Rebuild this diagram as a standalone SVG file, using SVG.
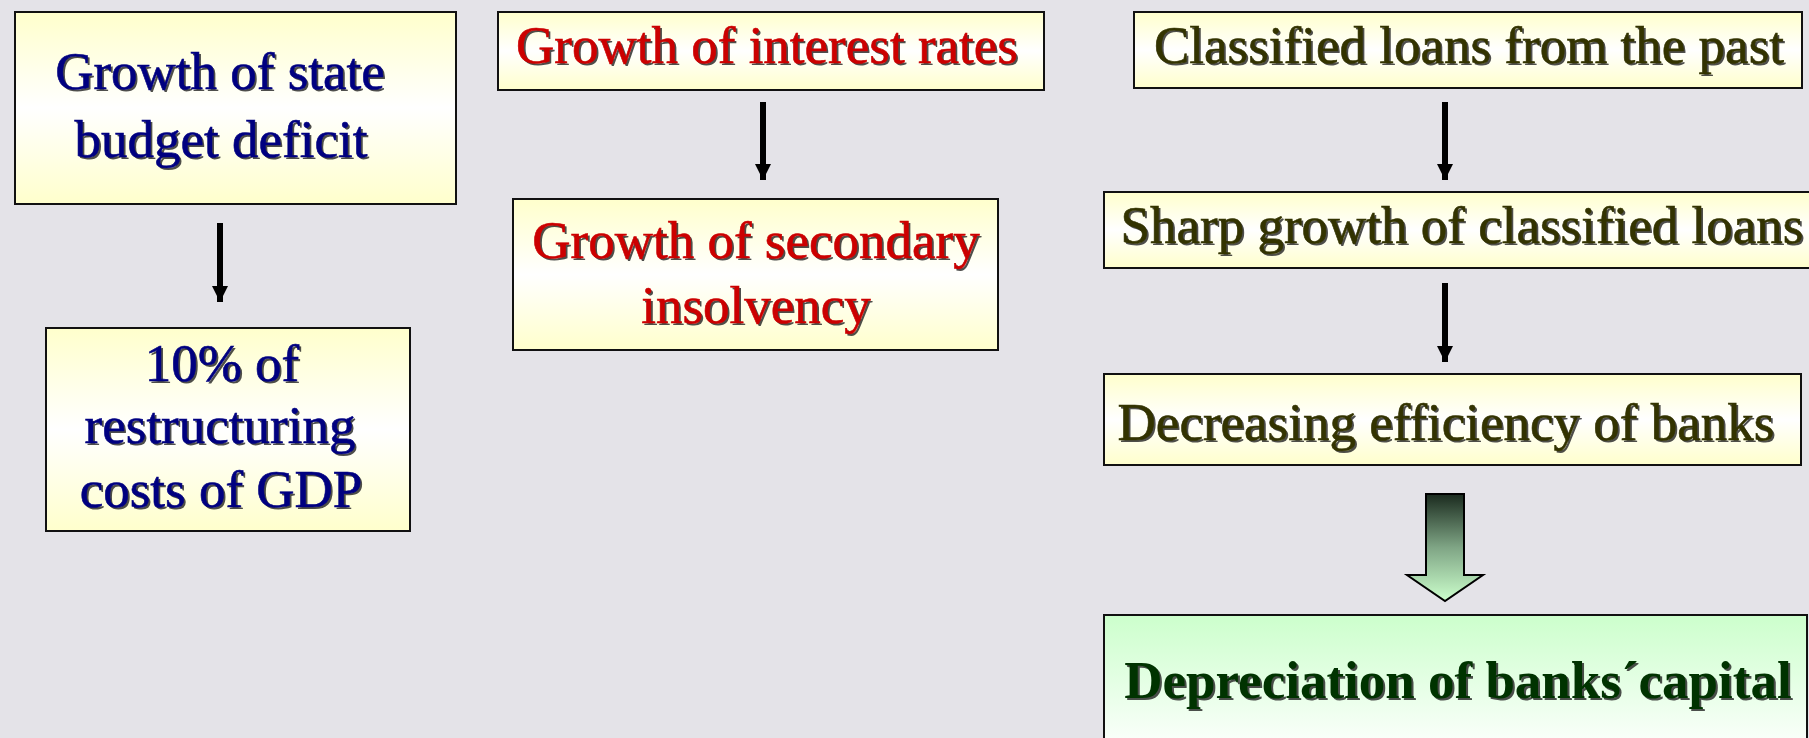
<svg xmlns="http://www.w3.org/2000/svg" width="1809" height="738" viewBox="0 0 1809 738">
<defs>
<linearGradient id="gY" x1="0" y1="0" x2="0" y2="1">
<stop offset="0" stop-color="#ffffcc"/>
<stop offset="0.5" stop-color="#ffffff"/>
<stop offset="1" stop-color="#ffffcc"/>
</linearGradient>
<linearGradient id="gG" x1="0" y1="0" x2="0" y2="1">
<stop offset="0" stop-color="#ccffcc"/>
<stop offset="1" stop-color="#ffffff"/>
</linearGradient>
<linearGradient id="gA" x1="0" y1="0" x2="0" y2="1">
<stop offset="0" stop-color="#1a2a1e"/>
<stop offset="0.5" stop-color="#7fa585"/>
<stop offset="1" stop-color="#ccffcc"/>
</linearGradient>
<marker id="ah" viewBox="0 0 16 16" refX="16" refY="8" markerWidth="16" markerHeight="16" markerUnits="userSpaceOnUse" orient="auto">
<path d="M0,0 L16,8 L0,16 Z" fill="#000"/>
</marker>
</defs>
<style>
.box{stroke:#111;stroke-width:2;}
.t{font-family:"Liberation Serif","Times New Roman",serif;font-size:53px;text-anchor:middle;}
.sh{fill:#222;opacity:0.8;}
.blue{fill:#000080;stroke:#000080;stroke-width:0.6;}
.red{fill:#cc0000;stroke:#cc0000;stroke-width:0.6;}
.olive{fill:#333300;stroke:#333300;stroke-width:0.6;}
.green{fill:#003300;font-weight:bold;}
.conn{stroke:#000;stroke-width:6;fill:none;}
</style>
<rect width="1809" height="738" fill="#e4e3e8"/>

<g id="connectors">
<line class="conn" x1="220" y1="223" x2="220" y2="302" marker-end="url(#ah)"/>
<line class="conn" x1="763" y1="102" x2="763" y2="180" marker-end="url(#ah)"/>
<line class="conn" x1="1445" y1="102" x2="1445" y2="180" marker-end="url(#ah)"/>
<line class="conn" x1="1445" y1="283" x2="1445" y2="362" marker-end="url(#ah)"/>
<path d="M1426,494 L1464,494 L1464,575 L1483,575 L1445,601 L1407,575 L1426,575 Z" fill="url(#gA)" stroke="#000" stroke-width="2"/>
</g>

<g id="node-budget-deficit">
<rect class="box" x="15" y="12" width="441" height="192" fill="url(#gY)"/>
<text class="t sh" x="222" y="91">Growth of state</text>
<text class="t blue" x="220" y="89">Growth of state</text>
<text class="t sh" x="223" y="159">budget deficit</text>
<text class="t blue" x="221" y="157">budget deficit</text>
</g>

<g id="node-restructuring">
<rect class="box" x="46" y="328" width="364" height="203" fill="url(#gY)"/>
<text class="t sh" x="224" y="383">10% of</text>
<text class="t blue" x="222" y="381">10% of</text>
<text class="t sh" x="222" y="445">restructuring</text>
<text class="t blue" x="220" y="443">restructuring</text>
<text class="t sh" x="223" y="509">costs of GDP</text>
<text class="t blue" x="221" y="507">costs of GDP</text>
</g>

<g id="node-interest-rates">
<rect class="box" x="498" y="12" width="546" height="78" fill="url(#gY)"/>
<text class="t sh" x="769" y="65">Growth of interest rates</text>
<text class="t red" x="767" y="63">Growth of interest rates</text>
</g>

<g id="node-secondary-insolvency">
<rect class="box" x="513" y="199" width="485" height="151" fill="url(#gY)"/>
<text class="t sh" x="758" y="260">Growth of secondary</text>
<text class="t red" x="756" y="258">Growth of secondary</text>
<text class="t sh" x="758" y="325">insolvency</text>
<text class="t red" x="756" y="323">insolvency</text>
</g>

<g id="node-classified-past">
<rect class="box" x="1134" y="12" width="668" height="76" fill="url(#gY)"/>
<text class="t sh" x="1471" y="65">Classified loans from the past</text>
<text class="t olive" x="1469" y="63">Classified loans from the past</text>
</g>

<g id="node-sharp-growth">
<rect class="box" x="1104" y="192" width="720" height="76" fill="url(#gY)"/>
<text class="t sh" x="1464" y="245">Sharp growth of classified loans</text>
<text class="t olive" x="1462" y="243">Sharp growth of classified loans</text>
</g>

<g id="node-efficiency">
<rect class="box" x="1104" y="374" width="697" height="91" fill="url(#gY)"/>
<text class="t sh" x="1448" y="442">Decreasing efficiency of banks</text>
<text class="t olive" x="1446" y="440">Decreasing efficiency of banks</text>
</g>

<g id="node-depreciation">
<rect class="box" x="1104" y="615" width="703" height="140" fill="url(#gG)"/>
<text class="t sh green" x="1460" y="700" style="fill:#222">Depreciation of banks´capital</text>
<text class="t green" x="1458" y="698">Depreciation of banks´capital</text>
</g>
</svg>
